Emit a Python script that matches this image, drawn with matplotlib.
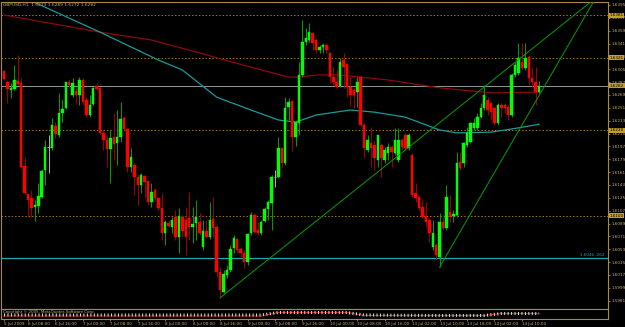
import numpy as np
import matplotlib.pyplot as plt
from matplotlib.transforms import blended_transform_factory

# GBPUSD H1
opens = [1.6303, 1.6287, 1.6276, 1.6277, 1.6289, 1.6286, 1.6170, 1.6130, 1.6125, 1.6112,
         1.6114, 1.6126, 1.6164, 1.6196, 1.6195, 1.6226, 1.6213, 1.6244, 1.6251, 1.6287,
         1.6269, 1.6275, 1.6269, 1.6290, 1.6262, 1.6241, 1.6256, 1.6282, 1.6279, 1.6216,
         1.6206, 1.6193, 1.6210, 1.6202, 1.6210, 1.6237, 1.6221, 1.6168, 1.6171, 1.6154,
         1.6143, 1.6156, 1.6149, 1.6119, 1.6136, 1.6125, 1.6111, 1.6076, 1.6090, 1.6084,
         1.6098, 1.6070, 1.6098, 1.6094, 1.6097, 1.6084, 1.6090, 1.6091, 1.6056, 1.6079,
         1.6070, 1.6095, 1.6084, 1.6021, 1.5993, 1.6017, 1.6024, 1.6055, 1.6067, 1.6053,
         1.6048, 1.6035, 1.6076, 1.6101, 1.6080, 1.6076, 1.6093, 1.6109, 1.6118, 1.6154,
         1.6154, 1.6195, 1.6174, 1.6252, 1.6261, 1.6210, 1.6230, 1.6297, 1.6343, 1.6346,
         1.6356, 1.6346, 1.6332, 1.6336, 1.6339, 1.6328, 1.6294, 1.6287, 1.6282, 1.6318,
         1.6312, 1.6280, 1.6276, 1.6273, 1.6294, 1.6227, 1.6192, 1.6202, 1.6199, 1.6178,
         1.6199, 1.6178, 1.6188, 1.6196, 1.6188, 1.6178, 1.6206, 1.6213, 1.6195, 1.6185,
         1.6132, 1.6126, 1.6112, 1.6100, 1.6094, 1.6056, 1.6059, 1.6042, 1.6091, 1.6083,
         1.6105, 1.6100, 1.6101, 1.6175, 1.6174, 1.6199, 1.6203, 1.6223, 1.6223, 1.6238,
         1.6251, 1.6262, 1.6258, 1.6251, 1.6230, 1.6255, 1.6255, 1.6252, 1.6241, 1.6297,
         1.6300, 1.6315, 1.6307, 1.6322, 1.6293, 1.6287, 1.6273]
highs = [1.6304, 1.6290, 1.6286, 1.6311, 1.6325, 1.6293, 1.6182, 1.6130, 1.6136, 1.6122,
         1.6146, 1.6165, 1.6206, 1.6213, 1.6237, 1.6231, 1.6272, 1.6262, 1.6287, 1.6290,
         1.6293, 1.6280, 1.6294, 1.6293, 1.6266, 1.6269, 1.6280, 1.6286, 1.6280, 1.6220,
         1.6213, 1.6220, 1.6244, 1.6248, 1.6259, 1.6240, 1.6223, 1.6195, 1.6174, 1.6157,
         1.6160, 1.6157, 1.6150, 1.6146, 1.6139, 1.6126, 1.6132, 1.6094, 1.6094, 1.6098,
         1.6108, 1.6111, 1.6101, 1.6112, 1.6133, 1.6112, 1.6122, 1.6104, 1.6094, 1.6094,
         1.6119, 1.6126, 1.6087, 1.6028, 1.6024, 1.6031, 1.6059, 1.6073, 1.6069, 1.6056,
         1.6052, 1.6076, 1.6105, 1.6104, 1.6091, 1.6094, 1.6112, 1.6122, 1.6157, 1.6164,
         1.6210, 1.6196, 1.6266, 1.6265, 1.6262, 1.6234, 1.6315, 1.6374, 1.6363, 1.6370,
         1.6357, 1.6349, 1.6339, 1.6342, 1.6342, 1.6329, 1.6308, 1.6304, 1.6321, 1.6328,
         1.6314, 1.6294, 1.6280, 1.6294, 1.6297, 1.6230, 1.6213, 1.6224, 1.6206, 1.6213,
         1.6202, 1.6196, 1.6202, 1.6199, 1.6223, 1.6223, 1.6209, 1.6216, 1.6216, 1.6188,
         1.6146, 1.6129, 1.6122, 1.6119, 1.6097, 1.6094, 1.6062, 1.6104, 1.6097, 1.6143,
         1.6129, 1.6108, 1.6189, 1.6189, 1.6203, 1.6224, 1.6231, 1.6237, 1.6244, 1.6258,
         1.6283, 1.6266, 1.6259, 1.6252, 1.6258, 1.6258, 1.6258, 1.6255, 1.6300, 1.6315,
         1.6342, 1.6342, 1.6342, 1.6325, 1.6308, 1.6308, 1.6289]
lows = [1.6290, 1.6258, 1.6265, 1.6276, 1.6283, 1.6167, 1.6130, 1.6098, 1.6098, 1.6093,
        1.6104, 1.6125, 1.6143, 1.6160, 1.6192, 1.6209, 1.6210, 1.6231, 1.6249, 1.6280,
        1.6266, 1.6256, 1.6255, 1.6255, 1.6238, 1.6238, 1.6255, 1.6276, 1.6214, 1.6192,
        1.6168, 1.6146, 1.6178, 1.6171, 1.6203, 1.6220, 1.6161, 1.6161, 1.6129, 1.6115,
        1.6132, 1.6126, 1.6115, 1.6112, 1.6122, 1.6108, 1.6066, 1.6059, 1.6084, 1.6076,
        1.6066, 1.6048, 1.6070, 1.6045, 1.6066, 1.6062, 1.6066, 1.6073, 1.6052, 1.6069,
        1.6068, 1.6070, 1.6014, 1.5985, 1.5992, 1.6013, 1.6021, 1.6048, 1.6048, 1.6042,
        1.6027, 1.6031, 1.6073, 1.6076, 1.6073, 1.6073, 1.6091, 1.6094, 1.6080, 1.6140,
        1.6153, 1.6167, 1.6171, 1.6234, 1.6191, 1.6198, 1.6213, 1.6294, 1.6339, 1.6343,
        1.6332, 1.6328, 1.6328, 1.6328, 1.6328, 1.6286, 1.6283, 1.6279, 1.6280, 1.6279,
        1.6266, 1.6255, 1.6251, 1.6252, 1.6224, 1.6181, 1.6189, 1.6168, 1.6164, 1.6168,
        1.6154, 1.6174, 1.6178, 1.6168, 1.6185, 1.6175, 1.6192, 1.6192, 1.6192, 1.6126,
        1.6119, 1.6108, 1.6097, 1.6084, 1.6063, 1.6052, 1.6038, 1.6028, 1.6080, 1.6080,
        1.6091, 1.6091, 1.6098, 1.6164, 1.6168, 1.6196, 1.6202, 1.6220, 1.6220, 1.6237,
        1.6248, 1.6241, 1.6234, 1.6227, 1.6227, 1.6238, 1.6244, 1.6234, 1.6238, 1.6294,
        1.6297, 1.6304, 1.6304, 1.6283, 1.6280, 1.6255, 1.6272]
closes = [1.6291, 1.6277, 1.6279, 1.6290, 1.6284, 1.6168, 1.6132, 1.6122, 1.6111, 1.6115,
          1.6128, 1.6163, 1.6196, 1.6196, 1.6227, 1.6214, 1.6244, 1.6249, 1.6287, 1.6283,
          1.6286, 1.6269, 1.6290, 1.6259, 1.6241, 1.6255, 1.6279, 1.6277, 1.6216, 1.6206,
          1.6193, 1.6209, 1.6200, 1.6210, 1.6235, 1.6221, 1.6168, 1.6182, 1.6154, 1.6143,
          1.6157, 1.6147, 1.6119, 1.6133, 1.6125, 1.6111, 1.6076, 1.6091, 1.6086, 1.6094,
          1.6070, 1.6100, 1.6079, 1.6070, 1.6084, 1.6088, 1.6098, 1.6076, 1.6079, 1.6070,
          1.6094, 1.6083, 1.6021, 1.5996, 1.6018, 1.6024, 1.6053, 1.6069, 1.6052, 1.6048,
          1.6035, 1.6074, 1.6101, 1.6077, 1.6076, 1.6091, 1.6109, 1.6119, 1.6154, 1.6154,
          1.6195, 1.6174, 1.6251, 1.6259, 1.6210, 1.6231, 1.6297, 1.6343, 1.6349, 1.6357,
          1.6342, 1.6332, 1.6336, 1.6339, 1.6332, 1.6294, 1.6287, 1.6280, 1.6315, 1.6308,
          1.6280, 1.6269, 1.6269, 1.6287, 1.6227, 1.6195, 1.6206, 1.6195, 1.6181, 1.6213,
          1.6181, 1.6192, 1.6196, 1.6189, 1.6206, 1.6206, 1.6196, 1.6195, 1.6213, 1.6129,
          1.6125, 1.6111, 1.6098, 1.6091, 1.6076, 1.6076, 1.6045, 1.6091, 1.6083, 1.6126,
          1.6098, 1.6102, 1.6174, 1.6167, 1.6202, 1.6216, 1.6230, 1.6230, 1.6238, 1.6251,
          1.6269, 1.6248, 1.6245, 1.6230, 1.6255, 1.6251, 1.6251, 1.6241, 1.6297, 1.6311,
          1.6321, 1.6307, 1.6321, 1.6293, 1.6287, 1.6273, 1.6282]

# medias moviles (barra, precio)
ma_roja_x = [0, 28, 43, 57, 62, 72, 83, 86, 91, 98, 112, 127, 142, 156]
ma_roja = [1.6381, 1.6357, 1.6346, 1.6328, 1.6321, 1.6308, 1.6294, 1.6294, 1.6297,
           1.6297, 1.6290, 1.6279, 1.6272, 1.6273]
ma_cian_x = [6, 28, 45, 52, 62, 72, 80, 85, 91, 101, 108, 117, 127, 132, 142, 150, 156]
ma_cian = [1.6405, 1.6357, 1.6318, 1.6304, 1.6266, 1.6248, 1.6234, 1.6231, 1.6241,
           1.6248, 1.6245, 1.6238, 1.6220, 1.6216, 1.6217, 1.6223, 1.6228]

# lineas de tendencia (dos puntos cada una)
tend_a = [(63, 1.5985), (159, 1.6353)]
tend_b = [(127, 1.6028), (159, 1.6293)]

niveles_punteados = [1.6381, 1.6321, 1.6220, 1.6100]
nivel_cian = 1.6041
texto_cian = "1.6046 .262"

# subventana del indicador
sub_x = [0, 75, 80, 100, 105, 125, 140, 145, 156]
sub_marcas = [4, 4, 6.5, 6.5, 4, 3.5, 3.5, 5.5, 5.5]
sub_roja = [3, 3, 6.5, 6.5, 3.5, 3.5, 3.5, 5.5, 5.5]

etiquetas_barra = [0, 7, 15, 23, 31, 39, 47, 55, 63, 71, 79, 87, 95, 103, 111, 119, 127, 135, 143, 151]
etiquetas_tiempo = ["5 Jul 2009", "6 Jul 08:00", "6 Jul 16:00", "7 Jul 00:00", "7 Jul 08:00",
                    "7 Jul 16:00", "8 Jul 00:00", "8 Jul 08:00", "8 Jul 16:00", "9 Jul 00:00",
                    "9 Jul 08:00", "9 Jul 16:00", "10 Jul 00:00", "10 Jul 08:00", "10 Jul 16:00",
                    "13 Jul 02:00", "13 Jul 10:00", "13 Jul 18:00", "14 Jul 02:00", "14 Jul 10:00"]

marco = '#A88A40'
texto = '#C8B070'
oro = '#C89B2A'
fs = 3.0

W, H = 625, 327
def caja(x0, y0, x1, y1):
    return [x0 / W, 1 - y1 / H, (x1 - x0) / W, (y1 - y0) / H]

fig = plt.figure(figsize=(W / 100, H / 100), dpi=100, facecolor='black')
ax = fig.add_axes(caja(1.5, 2, 608, 309))
sub = fig.add_axes(caja(1.5, 309, 608, 319), sharex=ax)

o = np.array(opens); h = np.array(highs); l = np.array(lows); c = np.array(closes)
x = np.arange(len(o))
sube = c > o
baja = c < o
doji = c == o

# mechas
ax.vlines(x[sube], l[sube], h[sube], color='#00A000', lw=0.7, zorder=3)
ax.vlines(x[baja], l[baja], h[baja], color='#A00000', lw=0.7, zorder=3)
ax.vlines(x[doji], l[doji], h[doji], color='#B0B0B0', lw=0.7, zorder=3)
# cuerpos
ax.bar(x[sube], (c - o)[sube], bottom=o[sube], width=0.72, color='#00FF00',
       edgecolor='#00FF00', lw=0.3, zorder=4)
ax.bar(x[baja], (o - c)[baja], bottom=c[baja], width=0.72, color='#FF0000',
       edgecolor='#FF0000', lw=0.3, zorder=4)
ax.hlines(o[doji], x[doji] - 0.36, x[doji] + 0.36, color='#B0B0B0', lw=0.7, zorder=4)

ax.plot(ma_roja_x, ma_roja, color='#8B0A0A', lw=0.9, zorder=2)
ax.plot(ma_cian_x, ma_cian, color='#1A9A9A', lw=0.9, zorder=2)

for (x0, y0), (x1, y1) in (tend_a, tend_b):
    pend = (y1 - y0) / (x1 - x0)
    ax.plot([x0, 200], [y0, y0 + pend * (200 - x0)], color='#00A000', lw=0.7, zorder=5)

for nv in niveles_punteados:
    ax.axhline(nv, color='#A07818', lw=0.7, ls=(0, (1.5, 2)), zorder=1)
ax.axhline(c[-1], color='#8A9A9A', lw=0.7, zorder=1)
ax.axhline(nivel_cian, color='#1AA8A8', lw=0.9, zorder=1)
ax.text(0.995, nivel_cian + 0.00006, texto_cian, color='#1AA8A8', fontsize=fs,
        ha='right', va='bottom', transform=blended_transform_factory(ax.transAxes, ax.transData))

ax.set_xlim(-0.73, 176.1)
ax.set_ylim(1.59694, 1.63992)
ax.set_facecolor('black')
ax.yaxis.tick_right()
ticks = np.arange(1.5981, 1.6396, 0.0018)
ax.set_yticks(ticks)
ax.set_yticklabels([f'{t:.4f}' for t in ticks])
ax.tick_params(axis='y', colors=marco, labelcolor=texto, labelsize=fs, length=1.5,
               width=0.6, pad=0.8)
ax.tick_params(axis='x', bottom=False, labelbottom=False)
for s in ax.spines.values():
    s.set_color(marco)
    s.set_linewidth(0.8)

trans = blended_transform_factory(ax.transAxes, ax.transData)
for nv in niveles_punteados + [c[-1]]:
    ax.text(1.003, nv, f'{nv:.4f}', transform=trans, fontsize=fs, color='black',
            va='center', ha='left', zorder=10,
            bbox=dict(boxstyle='square,pad=0.12', fc=oro, ec='none'))

ax.text(0.003, 0.997, f'GBPUSD,H1  {o[-1]:.4f} {h[-1]:.4f} {l[-1]:.4f} {c[-1]:.4f}',
        transform=ax.transAxes, fontsize=3.2, color=texto, va='top', ha='left')

# subventana
sub.set_facecolor('black')
sub.plot(sub_x, sub_roja, color='#C01010', lw=0.8)
sub.plot(sub_x, sub_marcas, color='#E0E0E0', lw=2.2, ls=(0, (0.33, 0.8)),
         dash_capstyle='butt')
sub.set_ylim(0, 10)
sub.yaxis.tick_right()
sub.set_yticks([])
sub.text(0.003, 0.85, 'Copyright © 2005, MetaQuotes Software Corp.', transform=sub.transAxes,
         fontsize=2.8, color=texto, va='top', ha='left')
sub.set_xticks(etiquetas_barra)
sub.set_xticklabels(etiquetas_tiempo, ha='left')
sub.tick_params(axis='x', colors=marco, labelcolor=texto, labelsize=fs, length=1.5,
                width=0.6, pad=0.8)
for s in sub.spines.values():
    s.set_color(marco)
    s.set_linewidth(0.8)

fig.savefig('out.png', dpi=100, facecolor='black')
